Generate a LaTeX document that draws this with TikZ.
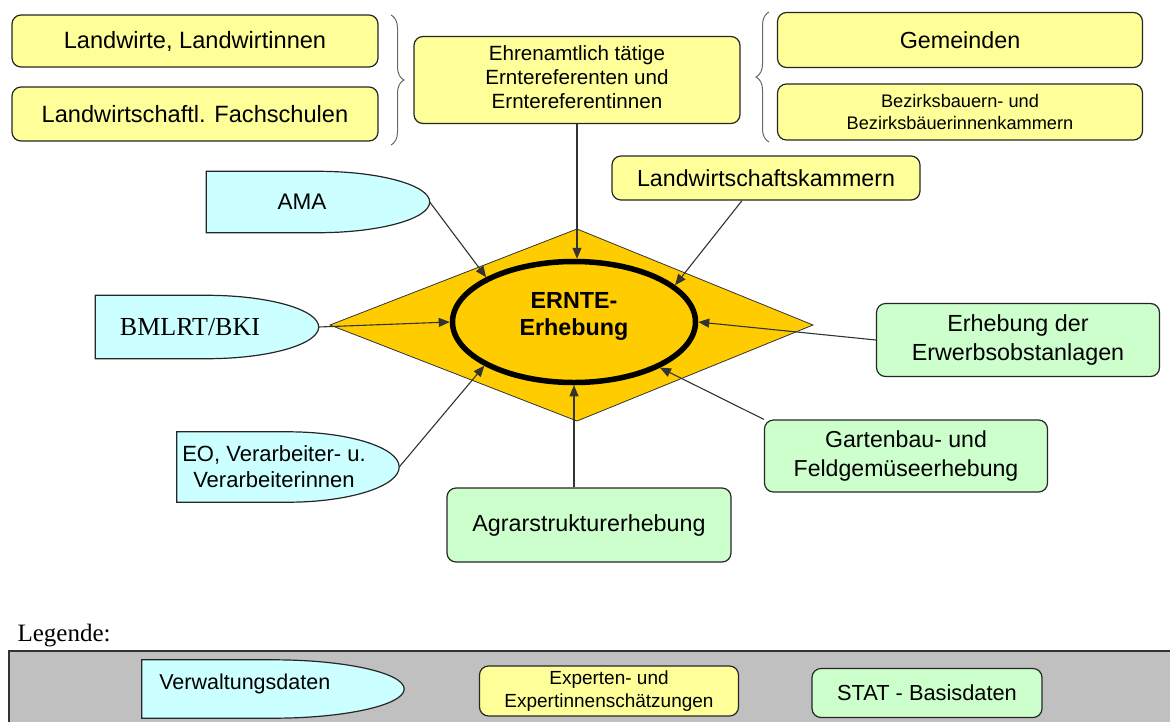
\documentclass[tikz,border=0pt]{standalone}
\usepackage{fontspec}
\setmainfont{Liberation Sans}
\newfontfamily\timesfont{Liberation Serif}
\usetikzlibrary{arrows.meta,decorations.pathreplacing,shapes.geometric}
\pgfdeclarelayer{background}
\pgfsetlayers{background,main}
\definecolor{gelb}{HTML}{FFFF99}
\definecolor{gruen}{HTML}{CCFFCC}
\definecolor{tuerkis}{HTML}{CCFFFF}
\definecolor{raute}{HTML}{FFCC00}
\definecolor{grau}{HTML}{C0C0C0}
\tikzset{
  kasten/.style={draw=black!85, line width=1.2pt, rounded corners=9pt, align=center, inner sep=2pt},
  gelbbox/.style={kasten, fill=gelb},
  gruenbox/.style={kasten, fill=gruen},
  verwbox/.style={align=center, inner sep=2pt},
  pfeil/.style={draw=black!80, line width=1.1pt, -{Triangle[length=11pt,width=9pt]}},
  klammer/.style={draw=black!60, line width=1pt, decorate, decoration={brace, amplitude=13pt}},
}
% Umriss der Verwaltungsdaten: links gerade, rechts halbe Ellipse
\newcommand{\verwrand}[3]{%
  \begin{pgfonlayer}{background}
  \filldraw[fill=tuerkis, draw=black!85, line width=1.2pt] (#1.south west) -- (#1.north west) -- (#1.north)
    .. controls ([xshift=0.5523*#2 pt]#1.north) and ([yshift=0.5523*#3 pt]#1.east) .. (#1.east)
    .. controls ([yshift=-0.5523*#3 pt]#1.east) and ([xshift=0.5523*#2 pt]#1.south) .. (#1.south) -- cycle;
  \end{pgfonlayer}}
\begin{document}
\begin{tikzpicture}[x=1pt,y=-1pt]
\useasboundingbox (0,0) rectangle (1170,721);
% Raute mit ERNTE-Erhebung
\filldraw[draw=black!80, line width=0.8pt, fill=raute] (577,229) -- (813,325) -- (577,421) -- (330,325) -- cycle;
\node[ellipse, draw=black, line width=5.5pt, minimum width=243pt, minimum height=121pt,
  label={[align=center, yshift=6pt, font=\bfseries\fontsize{23.3}{27}\selectfont]center:ERNTE-\\Erhebung}] (erh) at (574,322) {};
% Experten (oben)
\node[gelbbox, minimum width=366pt, minimum height=52pt, font=\fontsize{23.6}{27}\selectfont] (lw) at (195,41) {Landwirte, Landwirtinnen};
\node[gelbbox, minimum width=366pt, minimum height=54pt, font=\fontsize{23.6}{27}\selectfont] (fs) at (195,114) {Landwirtschaftl. Fachschulen};
\node[gelbbox, minimum width=326pt, minimum height=87pt,
  label={[align=center, yshift=3pt, font=\fontsize{20.6}{24}\selectfont]center:Ehrenamtlich tätige\\Erntereferenten und\\Erntereferentinnen}] (ehr) at (577,80) {};
\node[gelbbox, minimum width=365pt, minimum height=55pt, font=\fontsize{23.3}{27}\selectfont] (gem) at (960,40) {Gemeinden};
\node[gelbbox, minimum width=365pt, minimum height=56pt, font=\fontsize{18.2}{22}\selectfont] (bez) at (960,112) {Bezirksbauern- und\\Bezirksbäuerinnenkammern};
\node[gelbbox, minimum width=308pt, minimum height=44pt, font=\fontsize{23.2}{27}\selectfont] (lwk) at (766,178) {Landwirtschaftskammern};
\draw[klammer] (391,15) -- (391,145);
\draw[klammer] (769,142) -- (769,12);
% Verwaltungsdaten (links)
\node[verwbox, minimum width=223pt, minimum height=61pt,
  label={[xshift=-16pt, font=\fontsize{22.5}{26}\selectfont]center:AMA}] (ama) at (318,202) {};
\verwrand{ama}{111.5}{30.5}
\node[verwbox, minimum width=223pt, minimum height=63pt,
  label={[xshift=-17pt, font=\timesfont\fontsize{26}{29}\selectfont]center:BMLRT/BKI}] (bml) at (207,327) {};
\verwrand{bml}{111.5}{31.5}
\node[verwbox, minimum width=222pt, minimum height=70pt,
  label={[xshift=-14pt, align=center, font=\fontsize{22}{26}\selectfont]center:EO, Verarbeiter- u.\\Verarbeiterinnen}] (eo) at (288,467) {};
\verwrand{eo}{111}{35}
% STAT - Basisdaten (rechts, unten)
\node[gruenbox, minimum width=283pt, minimum height=73pt, font=\fontsize{23.3}{29}\selectfont] (erw) at (1018,340) {Erhebung der\\Erwerbsobstanlagen};
\node[gruenbox, minimum width=283pt, minimum height=72pt, font=\fontsize{23.1}{29}\selectfont] (gar) at (906,456) {Gartenbau- und\\Feldgemüseerhebung};
\node[gruenbox, minimum width=284pt, minimum height=74pt, font=\fontsize{23.3}{27}\selectfont] (agr) at (589,525) {Agrarstrukturerhebung};
% Pfeile
\draw[pfeil] (ama.east) -- (erh.153);
\draw[pfeil] (ehr.south) -- (ehr.south |- erh.north);
\draw[pfeil] ([xshift=-24pt]lwk.south) -- (erh.20);
\draw[pfeil] (bml.east) -- (erh.west);
\draw[pfeil] (erw.west) -- (erh.east);
\draw[pfeil] (gar.north west) -- (erh.-28);
\draw[pfeil] (erh.south |- agr.north) -- (erh.south);
\draw[pfeil] (eo.east) -- (erh.206);
% Legende
\node[anchor=west, font=\timesfont\fontsize{25}{28}\selectfont] (leg) at (14,636) {Legende:};
\begin{pgfonlayer}{background}
\filldraw[fill=grau, draw=black!80, line width=1.2pt] (9,651) rectangle (1180,730);
\end{pgfonlayer}
\node[verwbox, minimum width=262pt, minimum height=58pt,
  label={[anchor=west, xshift=14pt, yshift=5pt, font=\fontsize{21.5}{25}\selectfont]west:Verwaltungsdaten}] (lverw) at (273,689) {};
\verwrand{lverw}{131}{29}
\node[gelbbox, minimum width=259pt, minimum height=50pt, font=\fontsize{19}{22.5}\selectfont] (lexp) at (609,691) {Experten- und\\Expertinnenschätzungen};
\node[gruenbox, minimum width=230pt, minimum height=49pt, font=\fontsize{21.8}{25}\selectfont] (lstat) at (927,693) {STAT - Basisdaten};
\end{tikzpicture}
\end{document}
